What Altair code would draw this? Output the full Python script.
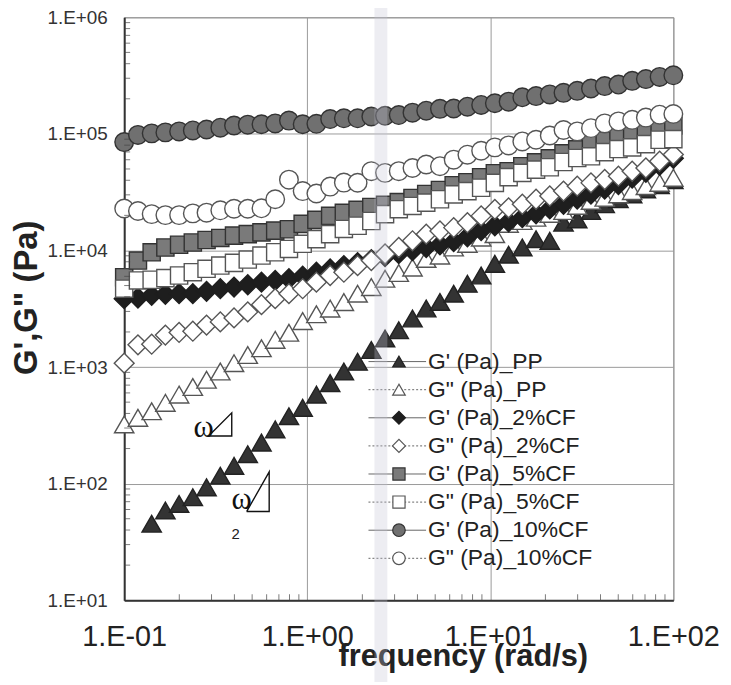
import altair as alt
import pandas as pd

# ---------------- data ----------------
freq = [0.1, 0.1189, 0.1413, 0.1679, 0.1995, 0.2371, 0.2818, 0.335, 0.3981, 0.4732,
        0.5623, 0.6683, 0.7943, 0.9441, 1.122, 1.334, 1.585, 1.884, 2.239, 2.661,
        3.162, 3.758, 4.467, 5.309, 6.31, 7.499, 8.913, 10.59, 12.59, 14.96,
        17.78, 21.13, 25.12, 29.85, 35.48, 42.17, 50.12, 59.57, 70.79, 84.14, 100.0]

gp_pp = [None, None, 45.3, 58.8, 67.0, 76.4, 93.0, 117, 142, 179, 225, 292, 379, 447,
         580, 729, 915, 1110, 1400, 1760, 2070, 2610, 3180, 3620, 4260, 5180, 6100,
         7680, 9200, 10600, 12500, 12100, 17300, 18500, 21800, 24900, 27600, 30300,
         33400, 36300, 40100]
gpp_pp = [322, 367, 418, 493, 580, 674, 778, 916, 1080, 1270, 1450, 1710, 1970, 2480,
          2840, 3170, 3610, 4260, 4850, 5720, 6410, 7130, 8460, 9030, 10600, 11400,
          12900, 13800, 16900, 17900, 19100, 20600, 21800, 24100, 26600, 28300, 30300,
          32300, 35600, 38000, 42000]
gp_2 = [3860, 3910, 4120, 4210, 4260, 4260, 4460, 4700, 4850, 5080, 5350, 5530, 5720,
        6020, 6510, 6950, 7420, 7870, 8350, 8860, 9400, 9960, 10600, 11200, 11900,
        13100, 14800, 16300, 17600, 19100, 20600, 22700, 24900, 27600, 30500, 33600,
        36800, 41700, 46900, 53800, 61700]
gpp_2 = [1080, 1550, 1570, 1880, 1980, 2030, 2290, 2440, 2640, 2970, 3430, 3860, 4260,
         4700, 5350, 6100, 6510, 7410, 8190, 9330, 10600, 12100, 13800, 14700, 15700,
         17300, 19800, 22500, 23200, 24900, 27500, 29300, 32300, 35600, 38000, 40600,
         43400, 47800, 51000, 58200, 66400]
gp_5 = [5900, 8190, 9640, 10600, 11200, 11700, 12300, 12800, 13400, 13800, 14300, 14800,
        15200, 16900, 18300, 19800, 21000, 22300, 23600, 24600, 26000, 28200, 30500,
        33000, 36300, 38500, 42500, 46000, 47800, 52800, 57000, 61600, 68000, 73600,
        82800, 87900, 95000, 105000, 107000, 116000, 118000]
gpp_5 = [4700, 5530, 5610, 5790, 6100, 6510, 6960, 7420, 7830, 8360, 9040, 9650, 10300,
         11400, 12500, 13800, 15300, 16300, 17900, 20500, 22600, 24100, 25700, 27500,
         30300, 32300, 34500, 38000, 42600, 46300, 49400, 51700, 57400, 62100, 64200,
         69800, 74100, 76600, 81700, 89100, 90100]
gp_10 = [85000, 98000, 101000, 103000, 105000, 107000, 109000, 113000, 118000, 120000,
         121000, 123000, 130000, 121000, 122000, 134000, 136000, 136000, 141000, 143000,
         145000, 152000, 158000, 164000, 165000, 171000, 177000, 183000, 189000, 206000,
         211000, 218000, 225000, 234000, 245000, 257000, 265000, 285000, 295000, 308000,
         318000]
gpp_10 = [22900, 21800, 20500, 20100, 20100, 20800, 21100, 22100, 22800, 22800, 23000,
          27500, 40500, 32300, 30800, 35300, 38200, 38100, 47900, 46300, 47900, 51000,
          54600, 52800, 60100, 66300, 71700, 76600, 79600, 86100, 89100, 96900, 108000,
          105000, 112000, 123000, 128000, 132000, 138000, 146000, 148000]

series_names = ["G' (Pa)_PP", 'G" (Pa)_PP', "G' (Pa)_2%CF", 'G" (Pa)_2%CF',
                "G' (Pa)_5%CF", 'G" (Pa)_5%CF', "G' (Pa)_10%CF", 'G" (Pa)_10%CF']
series_values = [gp_pp, gpp_pp, gp_2, gpp_2, gp_5, gpp_5, gp_10, gpp_10]

x_ticks = [0.1, 1, 10, 100]
x_tick_labels = ["1.E-01", "1.E+00", "1.E+01", "1.E+02"]
y_ticks = [10, 100, 1000, 10000, 100000, 1000000]
y_tick_labels = ["1.E+01", "1.E+02", "1.E+03", "1.E+04", "1.E+05", "1.E+06"]
x_decades = [0.1, 1, 10]
y_decades = [10, 100, 1000, 10000, 100000]
minor_mult = [2, 3, 4, 5, 6, 7, 8, 9]

# slope-indicator annotations (frequency, modulus)
slope_tri_1 = [(0.2891, 255.9), (0.3869, 255.9), (0.3869, 404.9), (0.2891, 255.9)]
slope_tri_2 = [(0.4665, 57.6), (0.6196, 57.6), (0.6196, 126.3), (0.4665, 57.6)]
omega_labels = [("ω", 0.2716, 249.5), ("ω", 0.4384, 60.8)]
two_label = [("2", 0.4066, 37.2)]

# ---------------- styles ----------------
styles = [
    dict(shape="triangle-up", fill="#333333", stroke="#222222", size=380, lsize=160),
    dict(shape="triangle-up", fill="#ffffff", stroke="#555555", size=380, lsize=160),
    dict(shape="diamond", fill="#1e1e1e", stroke="#1e1e1e", size=400, lsize=170),
    dict(shape="diamond", fill="#ffffff", stroke="#555555", size=400, lsize=170),
    dict(shape="square", fill="#7a7a7a", stroke="#333333", size=300, lsize=150),
    dict(shape="square", fill="#ffffff", stroke="#555555", size=300, lsize=150),
    dict(shape="circle", fill="#707070", stroke="#333333", size=350, lsize=160),
    dict(shape="circle", fill="#ffffff", stroke="#555555", size=350, lsize=160),
]

W, H = 553, 587
FONT = "Liberation Sans"


def ternary(ticks, labels):
    expr = "'" + labels[-1] + "'"
    for t, lab in reversed(list(zip(ticks[:-1], labels[:-1]))):
        expr = "datum.value < " + repr(t * 3.16) + " ? '" + lab + "' : (" + expr + ")"
    return expr


xs = alt.Scale(type="log", domain=[0.1, 100], nice=False)
ys = alt.Scale(type="log", domain=[10, 1000000], nice=False)

x_axis = alt.Axis(values=x_ticks, labelExpr=ternary(x_ticks, x_tick_labels),
                  grid=True, gridColor="#9a9a9a", gridWidth=1,
                  ticks=False, tickSize=0, domainColor="#333333", domainWidth=2,
                  labelFont=FONT, labelFontSize=29, labelColor="#222222",
                  labelPadding=46, labelBaseline="alphabetic", labelFlush=False,
                  labelOverlap=False, labelBound=False,
                  title="frequency (rad/s)", titleFont=FONT, titleFontSize=31,
                  titleFontWeight="bold", titleColor="#222222",
                  titleX=341, titleY=66, titleAlign="center",
                  titleBaseline="alphabetic")
y_axis = alt.Axis(values=y_ticks, labelExpr=ternary(y_ticks, y_tick_labels),
                  grid=True, gridColor="#9a9a9a", gridWidth=1,
                  ticks=False, tickSize=0, domainColor="#333333", domainWidth=2,
                  labelFont=FONT, labelFontSize=19, labelColor="#333333",
                  labelPadding=17, labelFlush=False, labelOverlap=False,
                  labelBound=False,
                  title="G',G\" (Pa)", titleFont=FONT, titleFontSize=33,
                  titleFontWeight="bold", titleColor="#222222",
                  titleAngle=270, titleX=-88, titleY=282, titleAlign="center",
                  titleBaseline="alphabetic")

X = alt.X("freq:Q", scale=xs, axis=x_axis)
Y = alt.Y("val:Q", scale=ys, axis=y_axis)

layers = []

# data series
for name, vals, st in zip(series_names, series_values, styles):
    rows = [(f, v) for f, v in zip(freq, vals) if v is not None]
    df = pd.DataFrame(rows, columns=["freq", "val"])
    layers.append(
        alt.Chart(df).mark_point(shape=st["shape"], filled=True, fill=st["fill"],
                                 stroke=st["stroke"], strokeWidth=1.4,
                                 size=st["size"], opacity=1)
        .encode(x=X, y=Y)
    )

# minor ticks
x_minor = [m * d for d in x_decades for m in minor_mult]
y_minor = [m * d for d in y_decades for m in minor_mult]
layers.append(
    alt.Chart(pd.DataFrame({"freq": x_minor})).mark_tick(
        orient="vertical", size=6, thickness=1, color="#444444")
    .encode(x=X, y=alt.value(H - 3))
)
layers.append(
    alt.Chart(pd.DataFrame({"val": y_minor})).mark_tick(
        orient="horizontal", size=6, thickness=1, color="#444444")
    .encode(y=Y, x=alt.value(3))
)

# slope triangles and labels
for tri in (slope_tri_1, slope_tri_2):
    df = pd.DataFrame([(f, v, i) for i, (f, v) in enumerate(tri)],
                      columns=["freq", "val", "ord"])
    layers.append(
        alt.Chart(df).mark_line(color="#111111", strokeWidth=1.4)
        .encode(x=X, y=Y, order="ord:Q")
    )
layers.append(
    alt.Chart(pd.DataFrame(omega_labels, columns=["label", "freq", "val"]))
    .mark_text(font="Liberation Serif", fontSize=31, align="center",
               baseline="alphabetic", color="#111111")
    .encode(x=X, y=Y, text="label:N")
)
layers.append(
    alt.Chart(pd.DataFrame(two_label, columns=["label", "freq", "val"]))
    .mark_text(font=FONT, fontSize=15, align="center", baseline="middle",
               color="#222222")
    .encode(x=X, y=Y, text="label:N")
)

# manual legend
leg_top, leg_step = 346.7, 28.3
for i, (name, st) in enumerate(zip(series_names, styles)):
    ry = leg_top + leg_step * i
    one = pd.DataFrame({"label": [name]})
    dash = [] if i % 2 == 0 else [2, 2]
    layers.append(
        alt.Chart(one).mark_rule(color="#666666", strokeWidth=1, strokeDash=dash)
        .encode(x=alt.value(246), x2=alt.value(304), y=alt.value(ry))
    )
    layers.append(
        alt.Chart(one).mark_point(shape=st["shape"], filled=True, fill=st["fill"],
                                  stroke=st["stroke"], strokeWidth=1.2,
                                  size=st["lsize"], opacity=1)
        .encode(x=alt.value(276.7), y=alt.value(ry))
    )
    layers.append(
        alt.Chart(one).mark_text(font=FONT, fontSize=23, align="left",
                                 baseline="middle", color="#222222")
        .encode(x=alt.value(306), y=alt.value(ry), text="label:N")
    )

# scanned paper band
layers.append(
    alt.Chart(pd.DataFrame({"a": [0]})).mark_rect(fill="#c3c5d4", opacity=0.3)
    .encode(x=alt.value(252), x2=alt.value(265), y=alt.value(-15),
            y2=alt.value(H + 85))
)

chart = alt.layer(*layers).properties(
    width=W, height=H,
    autosize=alt.AutoSizeParams(type="none"),
    padding={"left": 117, "top": 7, "right": 50, "bottom": 80},
    background="white",
).configure_view(stroke="#8a8a8a", strokeWidth=1)

chart.save("out.html", embed_options={"renderer": "svg", "actions": False})
